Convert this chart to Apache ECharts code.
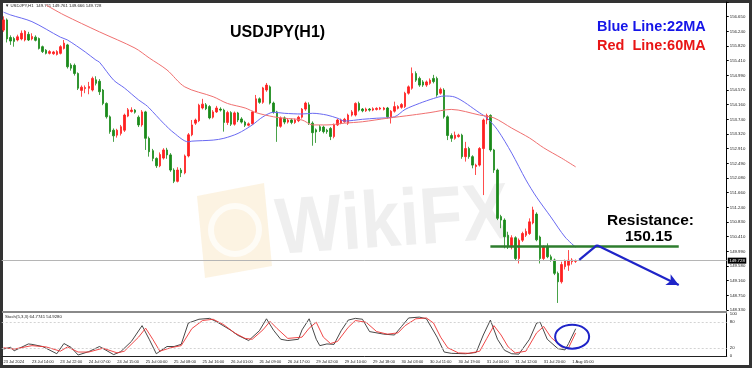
<!DOCTYPE html>
<html><head><meta charset="utf-8">
<script src="https://cdn.jsdelivr.net/npm/echarts@6/dist/echarts.min.js"></script>
<style>html,body{margin:0;padding:0;background:#fff}#c{width:753px;height:369px}</style>
</head><body><div id="c"></div>
<script>
// ---- data ----
const opens=[156.27,156.56,156.06,156.03,155.99,156.02,155.99,156.15,156.02,156.07,156.03,155.80,155.70,155.61,155.60,155.58,155.61,155.75,155.85,155.28,155.27,155.04,154.56,154.61,154.62,154.57,154.86,154.82,154.57,154.19,153.81,153.43,153.29,153.34,153.43,153.83,153.96,154.00,153.80,153.58,153.95,153.20,152.85,152.63,152.42,152.64,152.87,152.73,152.30,151.98,152.30,152.22,152.70,153.30,153.63,153.70,154.06,154.15,154.10,153.80,153.95,154.03,154.00,153.65,153.93,153.60,153.92,153.75,153.66,153.57,153.61,153.95,154.32,154.22,154.57,154.66,154.20,153.95,153.54,153.78,153.66,153.72,153.65,153.70,153.80,154.03,154.15,153.63,153.44,153.53,153.52,153.43,153.48,153.25,153.58,153.63,153.67,153.63,153.86,153.86,154.19,154.03,153.98,154.03,154.00,154.02,154.03,154.02,154.06,153.81,153.97,154.05,154.08,154.10,154.48,154.62,155.04,154.90,154.80,154.71,154.76,154.90,154.90,154.48,154.57,153.81,153.28,153.20,153.25,153.29,152.68,152.91,152.68,152.40,152.44,152.91,153.72,153.85,152.87,152.30,150.98,150.88,150.45,150.12,150.38,149.79,150.31,150.45,150.50,150.80,151.05,150.40,149.79,150.12,149.84,149.75,149.37,149.13,149.56,149.60,149.70,149.711];
const closes=[156.56,156.02,155.96,155.95,156.08,156.18,156.24,155.99,156.09,155.98,155.75,155.66,155.61,155.66,155.65,155.66,155.80,155.90,155.23,155.19,155.04,154.62,154.65,154.64,154.67,154.90,154.76,154.52,154.19,153.81,153.39,153.27,153.43,153.53,153.86,154.01,154.00,153.94,153.58,153.95,153.20,152.82,152.63,152.42,152.74,152.87,152.73,152.30,151.98,152.30,152.22,152.70,153.30,153.58,153.72,154.14,154.17,154.04,153.78,153.95,154.06,154.00,153.65,153.93,153.60,153.92,153.72,153.66,153.57,153.61,153.95,154.32,154.22,154.63,154.71,154.20,153.95,153.54,153.78,153.66,153.72,153.65,153.72,153.80,154.03,154.20,153.63,153.36,153.38,153.42,153.39,153.39,153.25,153.58,153.72,153.72,153.74,153.86,153.95,154.19,154.00,153.98,154.03,154.00,154.04,154.05,154.06,154.06,153.81,153.97,154.10,154.10,154.16,154.48,154.66,155.04,154.85,154.71,154.71,154.80,154.85,154.81,154.43,154.59,153.81,153.28,153.20,153.29,153.29,152.68,152.91,152.68,152.44,152.44,152.91,153.72,153.85,152.87,152.30,150.93,150.88,150.41,150.12,150.38,149.79,150.31,150.50,150.56,150.83,151.17,150.32,149.79,150.12,149.84,149.76,149.37,149.13,149.62,149.72,149.74,149.75,149.728];
const lows=[156.22,155.92,155.85,155.80,155.95,155.98,155.95,155.96,155.98,155.95,155.72,155.62,155.58,155.58,155.57,155.55,155.58,155.72,155.18,155.12,154.98,154.57,154.38,154.48,154.45,154.53,154.70,154.43,154.14,153.76,153.33,153.10,153.22,153.28,153.38,153.80,153.93,153.90,153.52,153.53,152.87,152.68,152.55,152.36,152.38,152.60,152.62,152.25,151.93,151.95,152.10,152.18,152.66,153.26,153.58,153.66,154.02,154.00,153.74,153.76,153.92,153.96,153.39,153.58,153.55,153.56,153.66,153.62,153.52,153.54,153.58,153.92,154.18,154.18,154.52,154.16,153.90,153.10,153.50,153.60,153.62,153.60,153.61,153.66,153.76,153.98,153.58,152.99,153.07,153.38,153.34,153.33,153.15,153.20,153.55,153.60,153.64,153.58,153.82,153.82,153.96,153.94,153.95,153.96,153.97,153.99,154.00,153.99,153.76,153.62,153.93,154.02,154.04,154.06,154.44,154.58,154.80,154.66,154.66,154.66,154.72,154.76,154.38,154.44,153.76,153.15,153.10,153.16,153.22,152.62,152.54,152.62,152.35,152.16,152.40,151.59,153.60,152.82,152.22,150.88,150.65,150.08,150.06,150.05,149.72,149.65,150.26,150.40,150.46,150.76,150.28,149.65,149.75,149.80,149.70,149.32,148.53,149.08,149.48,149.44,149.62,149.666];
const highs=[156.66,156.60,156.12,156.08,156.14,156.26,156.27,156.22,156.18,156.12,156.06,155.83,155.73,155.70,155.68,155.70,155.84,155.99,155.88,155.33,155.32,155.07,154.70,154.70,154.80,154.95,154.96,154.88,154.60,154.22,153.85,153.48,153.47,153.58,153.90,154.06,154.08,154.03,153.85,154.00,153.98,153.25,152.90,152.66,152.80,152.92,152.93,152.78,152.35,152.38,152.36,152.74,153.35,153.72,153.76,154.18,154.32,154.20,154.14,154.00,154.12,154.08,154.04,153.98,153.97,153.96,153.95,153.80,153.70,153.65,153.98,154.43,154.36,154.66,154.77,154.70,154.24,153.98,153.82,153.82,153.77,153.76,153.76,153.84,154.06,154.24,154.22,153.68,153.48,153.58,153.56,153.47,153.52,153.62,153.76,153.76,153.78,153.90,154.00,154.22,154.24,154.06,154.07,154.06,154.08,154.08,154.09,154.09,154.09,154.00,154.24,154.14,154.20,154.52,154.70,155.21,155.10,154.95,154.85,154.84,154.90,155.00,154.95,154.64,154.62,153.85,153.34,153.39,153.33,153.33,153.10,152.96,152.72,152.48,152.95,153.76,153.90,153.88,152.90,152.34,151.03,150.93,150.55,150.45,150.42,150.36,150.55,150.64,150.93,151.26,151.10,150.44,150.16,150.22,149.90,149.79,149.42,149.70,149.76,150.03,149.80,149.761];
const timeLabels=["23 Jul 2024","23 Jul 14:00","23 Jul 22:00","24 Jul 07:00","24 Jul 15:00","25 Jul 00:00","25 Jul 08:00","25 Jul 16:00","26 Jul 01:00","26 Jul 09:00","26 Jul 17:00","29 Jul 02:00","29 Jul 10:00","29 Jul 18:00","30 Jul 03:00","30 Jul 11:00","30 Jul 19:00","31 Jul 04:00","31 Jul 12:00","31 Jul 20:00","1 Aug 05:00"];
const priceLabels=["148.330","148.750","149.160","149.580","149.990","150.410","150.830","151.240","151.660","152.080","152.490","152.910","153.320","153.740","154.160","154.570","154.990","155.410","155.820","156.240","156.650"];
const stochLabels=[0,20,80,100];
// moving averages, read as [bar, price]
const ma22=[[0,156.78],[2,156.70],[8,156.51],[16,156.07],[18,155.99],[23,155.65],[26,155.42],[27,155.36],[31,154.85],[34,154.63],[38,154.29],[40,154.15],[41,154.06],[45,153.63],[48,153.35],[52,153.10],[53,153.12],[59,153.15],[62,153.20],[66,153.34],[70,153.58],[73,153.81],[76,153.94],[79,153.91],[84,153.89],[87,153.91],[91,153.86],[94,153.77],[96,153.69],[101,153.74],[105,153.77],[110,153.81],[113,154.02],[117,154.19],[121,154.33],[124,154.40],[127,154.37],[134,153.92],[136,153.78],[139,153.44],[143,152.78],[147,152.02],[150,151.53],[154,150.97],[158,150.40],[161,150.11]];
const ma60=[[12,156.98],[17,156.70],[27,156.22],[37,155.76],[41,155.48],[46,155.14],[51,154.66],[59,154.38],[63,154.19],[68,154.06],[71,153.93],[76,153.81],[79,153.77],[84,153.72],[87,153.58],[91,153.58],[96,153.63],[101,153.67],[108,153.77],[115,153.86],[120,153.93],[126,154.02],[134,153.86],[138,153.78],[143,153.49],[148,153.21],[152,152.93],[157,152.64],[161,152.39]];
// stochastic (5,3,3), read as [bar, value]
const stochMain=[[0,17],[2,21],[3,13],[7,29],[8,28],[11,23],[15,6],[17,30],[19,21],[21,3],[24,11],[27,23],[31,4],[33,11],[36,35],[39,72],[41,40],[43,6],[46,23],[48,23],[50,28],[52,78],[55,87],[58,89],[60,81],[64,61],[66,49],[69,37],[72,60],[74,88],[76,61],[78,40],[80,37],[83,40],[84,62],[86,88],[88,40],[89,25],[91,29],[93,28],[95,60],[97,85],[99,89],[101,87],[103,58],[107,52],[110,50],[112,70],[114,90],[117,92],[119,88],[122,45],[124,10],[126,7],[130,6],[133,9],[135,50],[137,85],[139,40],[141,14],[143,6],[145,5],[148,40],[150,78],[151,80],[153,40],[156,18],[158,15],[159,30],[161,64.77]];
const stochSignal=[[0,20],[3,17],[8,25],[12,22],[16,12],[18,22],[21,10],[24,10],[28,19],[32,8],[34,12],[38,45],[40,66],[42,40],[44,12],[47,20],[50,25],[53,65],[56,84],[59,87],[62,74],[65,55],[68,42],[70,40],[73,62],[75,82],[77,65],[80,42],[84,45],[86,66],[88,80],[90,45],[92,30],[94,35],[97,68],[99,84],[102,80],[105,58],[108,52],[111,55],[113,72],[116,88],[119,90],[121,78],[123,45],[125,20],[128,8],[131,7],[134,12],[136,42],[138,72],[140,50],[142,22],[144,8],[147,12],[150,55],[152,70],[154,45],[157,22],[159,20],[161,54.93]];
const lastPrice=149.728;
const resistance=150.15;
const resistanceSpan=[137,190];
const arrowPts=[[162,149.75],[167,150.17],[190,149.04]];
const ellipseAt=[160,46];

// ---- chart ----
const NCAT=204;
const cats=Array.from({length:NCAT},(_,i)=>String(i));
const FONT='Liberation Sans';
const chart=echarts.init(document.getElementById('c'),null,{renderer:'canvas'});
const gl=1.72, gw=3.554*NCAT;
const option={
  animation:false,
  backgroundColor:'#fff',
  grid:[
    {left:gl,top:2.04,width:gw,height:307.96},
    {left:gl,top:313.7,width:gw,height:42.6}
  ],
  xAxis:[
    {type:'category',gridIndex:0,data:cats,boundaryGap:true,show:false},
    {type:'category',gridIndex:1,data:cats,boundaryGap:true,
     axisLine:{lineStyle:{color:'#222',width:1}},
     axisTick:{interval:7,alignWithLabel:true,length:2,lineStyle:{color:'#222'}},
     axisLabel:{interval:7,fontSize:4,color:'#222',align:'left',margin:4,fontFamily:FONT,
       formatter:(v)=>{const i=Number(v);return i%8===0?(timeLabels[i/8]||''):'';}}}
  ],
  yAxis:[
    {type:'value',gridIndex:0,position:'right',min:148.33,max:157.066,interval:0.416,
     axisLine:{show:true,lineStyle:{color:'#000',width:1}},
     axisTick:{show:true,length:2,lineStyle:{color:'#000'}},
     splitLine:{show:false},
     axisLabel:{fontSize:4.3,color:'#222',margin:3,fontFamily:FONT,
       formatter:(v)=>priceLabels[Math.round((v-148.33)/0.416)]||''}},
    {type:'value',gridIndex:1,position:'right',min:0,max:100,interval:20,
     axisLine:{show:true,lineStyle:{color:'#000',width:1}},
     axisTick:{show:false},splitLine:{show:false},
     axisLabel:{fontSize:4.3,color:'#222',margin:3,fontFamily:FONT,
       formatter:(v)=>stochLabels.indexOf(v)>=0?String(v):''}}
  ],
  series:[
    {type:'candlestick',xAxisIndex:0,yAxisIndex:0,barWidth:2,z:3,
     data:opens.map((o,i)=>[o,closes[i],lows[i],highs[i]]),
     itemStyle:{color:'#ff2020',color0:'#1a8a1a',borderColor:'#ff2020',borderColor0:'#1a8a1a',borderWidth:0.8},
     markLine:{silent:true,symbol:'none',animation:false,label:{show:false},
       data:[
         {yAxis:lastPrice,lineStyle:{color:'#b5b5b5',width:1,type:'solid'},
          label:{show:true,position:'end',distance:1,formatter:'149.728',color:'#fff',backgroundColor:'#000',fontSize:4.3,padding:[1,1.5],fontFamily:FONT}},
         [{coord:[resistanceSpan[0],resistance],lineStyle:{color:'#2e7d2e',width:2.6,type:'solid'}},{coord:[resistanceSpan[1],resistance]}],
         [{coord:arrowPts[0],symbol:'none',lineStyle:{color:'#1f24c8',width:2.2,type:'solid'}},{coord:arrowPts[1],symbol:'none'}],
         [{coord:arrowPts[1],symbol:'none',lineStyle:{color:'#1f24c8',width:2.2,type:'solid'}},{coord:arrowPts[2],symbol:'arrow',symbolSize:[9,12]}]
       ]}},
    {type:'line',xAxisIndex:0,yAxisIndex:0,data:ma22,showSymbol:false,smooth:0.3,z:4,
     lineStyle:{color:'#6a6af2',width:1}},
    {type:'line',xAxisIndex:0,yAxisIndex:0,data:ma60,showSymbol:false,smooth:0.3,z:4,
     lineStyle:{color:'#f07070',width:1}},
    {type:'line',xAxisIndex:1,yAxisIndex:1,data:stochMain,showSymbol:false,z:4,
     lineStyle:{color:'#333',width:0.9},
     markLine:{silent:true,symbol:'none',label:{show:false},
       lineStyle:{color:'#c8c8c8',width:0.8,type:[2,2]},
       data:[{yAxis:20},{yAxis:80}]}},
    {type:'line',xAxisIndex:1,yAxisIndex:1,data:stochSignal,showSymbol:false,z:4,
     lineStyle:{color:'#ee3333',width:0.9}}
  ]
};
chart.setOption(option);
const ep=chart.convertToPixel({gridIndex:1},ellipseAt);
chart.setOption({graphic:[
  // watermark
  {type:'polygon',z:-10,silent:true,shape:{points:[[197,196],[264,183],[272,266],[205,278]]},style:{fill:'rgba(246,214,160,0.3)'}},
  {type:'circle',z:-9,silent:true,shape:{cx:235,cy:230,r:24},style:{fill:'none',stroke:'rgba(255,255,255,0.7)',lineWidth:6}},
  {type:'text',z:-10,silent:true,x:276,y:232,rotation:0.07,scaleX:0.88,
   style:{text:'WikiFX',font:'bold 80px "Liberation Sans"',fill:'rgba(110,110,110,0.11)',textVerticalAlign:'middle'}},
  // frame
  {type:'rect',silent:true,shape:{x:1.5,y:1.5,width:749,height:365},style:{fill:'none',stroke:'#333',lineWidth:3}},
  {type:'line',silent:true,shape:{x1:2,y1:312,x2:727,y2:312},style:{stroke:'#8a8a8a',lineWidth:2}},
  // header texts
  {type:'text',silent:true,x:5,y:6,style:{text:'\u25BC USDJPY,H1  149.711 149.761 149.666 149.728',font:'4.3px "Liberation Sans"',fill:'#222',textVerticalAlign:'middle'}},
  {type:'text',silent:true,x:5,y:316.5,style:{text:'Stoch(5,3,3) 64.7741 54.9280',font:'4.3px "Liberation Sans"',fill:'#222',textVerticalAlign:'middle'}},
  {type:'text',silent:true,x:230,y:33,style:{text:'USDJPY(H1)',font:'bold 16px "Liberation Sans"',fill:'#000',textVerticalAlign:'middle'}},
  {type:'text',silent:true,x:597,y:27,style:{text:'Blue Line:22MA',font:'bold 14.5px "Liberation Sans"',fill:'#1515e8',textVerticalAlign:'middle'}},
  {type:'text',silent:true,x:597,y:46,style:{text:'Red  Line:60MA',font:'bold 14.5px "Liberation Sans"',fill:'#e81515',textVerticalAlign:'middle'}},
  {type:'text',silent:true,x:607,y:221,style:{text:'Resistance:',font:'bold 15.5px "Liberation Sans"',fill:'#000',textVerticalAlign:'middle'}},
  {type:'text',silent:true,x:625,y:237,style:{text:'150.15',font:'bold 15.5px "Liberation Sans"',fill:'#000',textVerticalAlign:'middle'}},
  // ellipse around stochastic cross
  {type:'ellipse',silent:true,z:10,shape:{cx:ep[0],cy:ep[1],rx:17,ry:12},style:{fill:'none',stroke:'#1f24c8',lineWidth:2}}
]});
</script></body></html>
